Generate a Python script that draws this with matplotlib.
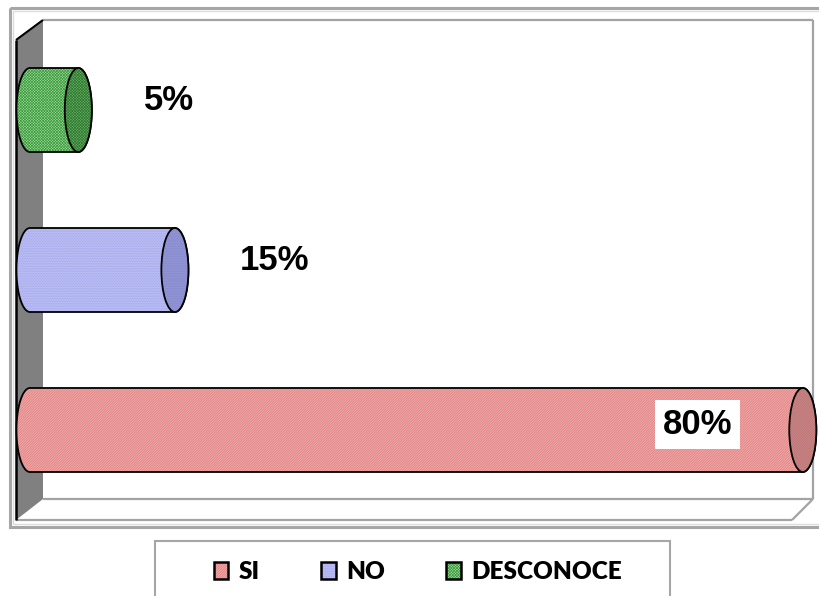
import matplotlib
matplotlib.use("Agg")
import matplotlib.pyplot as plt
import numpy as np
from matplotlib.patches import Polygon, Ellipse, Rectangle, Patch
from matplotlib.transforms import Affine2D
from matplotlib.legend_handler import HandlerTuple

categories = ["SI", "NO", "DESCONOCE"]
values = [80, 15, 5]
labels = ["80%", "15%", "5%"]

FACE = {"SI": "#f9d6d6", "NO": "#bcbff4", "DESCONOCE": "#a6dca6"}
HATCH_COL = {"SI": "#de6c6c", "NO": "#9ea1e8", "DESCONOCE": "#3c9c3c"}
END_FACE = {"SI": "#d39a9a", "NO": "#9396d6", "DESCONOCE": "#6cb06c"}
END_HATCH = {"SI": "#b86a6a", "NO": "#7f82c6", "DESCONOCE": "#2f7a2f"}
HATCH = {"SI": "/" * 20, "NO": "." * 10, "DESCONOCE": "x" * 12}

W, H = 820, 596
plt.rcParams["hatch.linewidth"] = 0.5

fig = plt.figure(figsize=(W / 100, H / 100), dpi=100)
ax = fig.add_axes([0, 0, 1, 1])
# x: 0% at px 30, 9.66 px per %; y: row i centred at px 430 - 160*i
ax.set_xlim(-30 / 9.66, (W - 30) / 9.66)
ax.set_ylim((430 - H) / 160, 430 / 160)
ax.axis("off")

# pixel transform for the frame decorations (origin top-left)
PX = Affine2D().scale(1 / W, -1 / H).translate(0, 1) + fig.transFigure


def pline(xs, ys, **kw):
    ax.plot(xs, ys, transform=PX, solid_capstyle="butt", **kw)


# outer frame
ax.add_patch(Rectangle((10, 8), 830, 519, transform=PX, fill=False,
                       edgecolor="#a6a6a6", lw=2.2, zorder=1))
ax.add_patch(Rectangle((13, 11), 830, 513, transform=PX, fill=False,
                       edgecolor="#dcdcdc", lw=1.0, zorder=1))
# back wall + floor
g = dict(color="#a3a3a3", lw=1.6, zorder=1)
pline([43, 813], [20, 20], **g)
pline([813, 813], [20, 499], **g)
pline([43, 813], [499, 499], **g)
pline([16, 792], [520, 520], **g)
pline([813, 792], [499, 520], **g)
# side wall
ax.add_patch(Polygon([(16, 40), (43, 20), (43, 499), (16, 520)],
                     closed=True, transform=PX, facecolor="#808080",
                     edgecolor="none", zorder=2))
pline([16, 16], [40, 520], color="black", lw=1.8, zorder=3)
pline([16, 43], [40, 20], color="black", lw=1.5, zorder=3)

# cylinders
w, h = 2.8, 0.525
for i, (cat, v, lab) in enumerate(zip(categories, values, labels)):
    t = np.linspace(np.pi / 2, 3 * np.pi / 2, 80)
    left = np.column_stack([w / 2 * np.cos(t), i + h / 2 * np.sin(t)])
    t2 = np.linspace(-np.pi / 2, np.pi / 2, 80)
    right = np.column_stack([v + w / 2 * np.cos(t2), i + h / 2 * np.sin(t2)])
    verts = np.vstack([left, right])
    ax.add_patch(Polygon(verts, closed=True, facecolor=FACE[cat],
                         edgecolor=HATCH_COL[cat], hatch=HATCH[cat], lw=0,
                         zorder=4))
    ax.add_patch(Polygon(verts, closed=True, fill=False, edgecolor="black",
                         lw=1.3, zorder=5))
    ax.add_patch(Ellipse((v, i), w, h, facecolor=END_FACE[cat],
                         edgecolor=END_HATCH[cat], hatch=HATCH[cat], lw=0,
                         zorder=6))
    ax.add_patch(Ellipse((v, i), w, h, fill=False, edgecolor="black",
                         lw=1.3, zorder=7))
    if v > 50:
        ax.annotate(lab, (v, i), xytext=(-51, 4), textcoords="offset points",
                    ha="right", va="center", fontsize=25, fontweight="bold",
                    family="Liberation Sans", zorder=8,
                    bbox=dict(boxstyle="square,pad=0.22", fc="white",
                              ec="none"))
    else:
        ax.annotate(lab, (v, i), xytext=(47, 7), textcoords="offset points",
                    ha="left", va="center", fontsize=25, fontweight="bold",
                    family="Liberation Sans", zorder=8)

# legend box
ax.add_patch(Rectangle((155, 541), 515, 70, transform=PX, facecolor="white",
                       edgecolor="#a6a6a6", lw=1.5, zorder=1))
handles = [(Patch(facecolor=FACE[c], edgecolor=HATCH_COL[c], hatch=HATCH[c],
                  lw=0),
            Patch(fill=False, edgecolor="black", lw=1.8))
           for c in categories]
leg = fig.legend(handles, categories, loc="center", ncol=3, frameon=False,
                 bbox_to_anchor=(418 / W, 1 - 572 / H),
                 handler_map={tuple: HandlerTuple(ndivide=1, pad=0)},
                 prop=dict(family="Lato", weight="heavy", size=17.5),
                 handlelength=0.6, handleheight=0.75, handletextpad=0.45,
                 columnspacing=2.5)

fig.savefig("out.png", dpi=100)
